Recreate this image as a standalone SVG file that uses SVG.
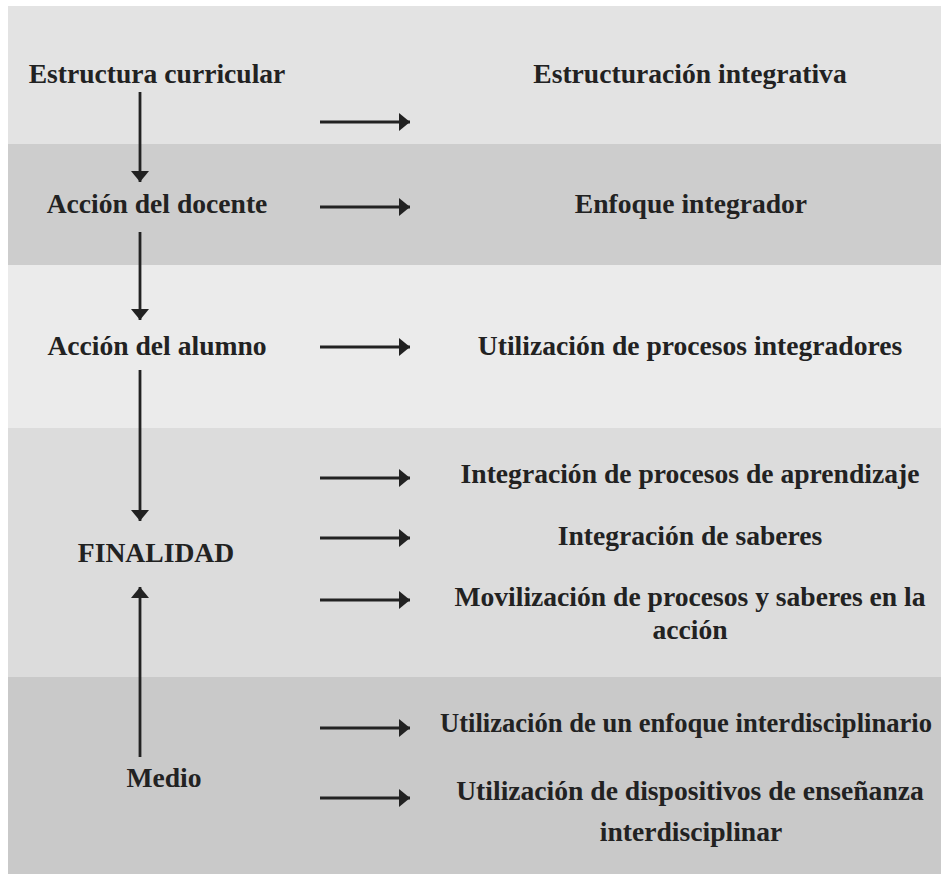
<svg xmlns="http://www.w3.org/2000/svg" width="941" height="874" viewBox="0 0 941 874">
<defs>
<style>
text{font-family:"Liberation Serif","Times New Roman",serif;font-weight:bold;font-size:27.6px;fill:#222222;text-anchor:middle}
.c line{stroke:#222;stroke-width:2.8}
</style>
<marker id="ah" markerUnits="userSpaceOnUse" markerWidth="13" markerHeight="18" refX="11" refY="9" orient="auto" viewBox="0 0 12 18">
<path d="M0,0 L11,9 L0,18 z" fill="#222"/>
</marker>
</defs>
<rect x="0" y="0" width="941" height="874" fill="#ffffff"/>
<g id="bands">
<rect x="8" y="6" width="933" height="138" fill="#e3e3e3"/>
<rect x="8" y="144" width="933" height="121" fill="#cdcdcd"/>
<rect x="8" y="265" width="933" height="163" fill="#ebebeb"/>
<rect x="8" y="428" width="933" height="249" fill="#dcdcdc"/>
<rect x="8" y="677" width="933" height="197" fill="#c9c9c9"/>
</g>
<g class="c" id="connectors">
<line x1="140" y1="92" x2="140" y2="182" marker-end="url(#ah)"/>
<line x1="140" y1="232" x2="140" y2="320" marker-end="url(#ah)"/>
<line x1="140" y1="370" x2="140" y2="521" marker-end="url(#ah)"/>
<line x1="140" y1="757" x2="140" y2="587" marker-end="url(#ah)"/>
<line x1="320" y1="122" x2="410" y2="122" marker-end="url(#ah)"/>
<line x1="320" y1="207" x2="410" y2="207" marker-end="url(#ah)"/>
<line x1="320" y1="347" x2="410" y2="347" marker-end="url(#ah)"/>
<line x1="320" y1="478" x2="410" y2="478" marker-end="url(#ah)"/>
<line x1="320" y1="538" x2="410" y2="538" marker-end="url(#ah)"/>
<line x1="320" y1="600" x2="410" y2="600" marker-end="url(#ah)"/>
<line x1="320" y1="728" x2="410" y2="728" marker-end="url(#ah)"/>
<line x1="320" y1="798" x2="410" y2="798" marker-end="url(#ah)"/>
</g>
<g id="n-estructura"><text x="157" y="83">Estructura curricular</text></g>
<g id="n-docente"><text x="157" y="213">Acción del docente</text></g>
<g id="n-alumno"><text x="157" y="355">Acción del alumno</text></g>
<g id="n-finalidad"><text x="156" y="562">FINALIDAD</text></g>
<g id="n-medio"><text x="164" y="787">Medio</text></g>
<g id="n-estructuracion"><text x="690" y="83">Estructuración integrativa</text></g>
<g id="n-enfoque"><text x="691" y="213">Enfoque integrador</text></g>
<g id="n-utilizacion-procesos"><text x="690" y="355">Utilización de procesos integradores</text></g>
<g id="n-integracion-procesos"><text x="690" y="483">Integración de procesos de aprendizaje</text></g>
<g id="n-integracion-saberes"><text x="690" y="545">Integración de saberes</text></g>
<g id="n-movilizacion"><text x="690" y="606">Movilización de procesos y saberes en la</text><text x="690" y="639">acción</text></g>
<g id="n-enfoque-inter"><text x="686" y="732" style="font-size:26.6px">Utilización de un enfoque interdisciplinario</text></g>
<g id="n-dispositivos"><text x="690" y="800">Utilización de dispositivos de enseñanza</text><text x="691" y="841">interdisciplinar</text></g>
</svg>
